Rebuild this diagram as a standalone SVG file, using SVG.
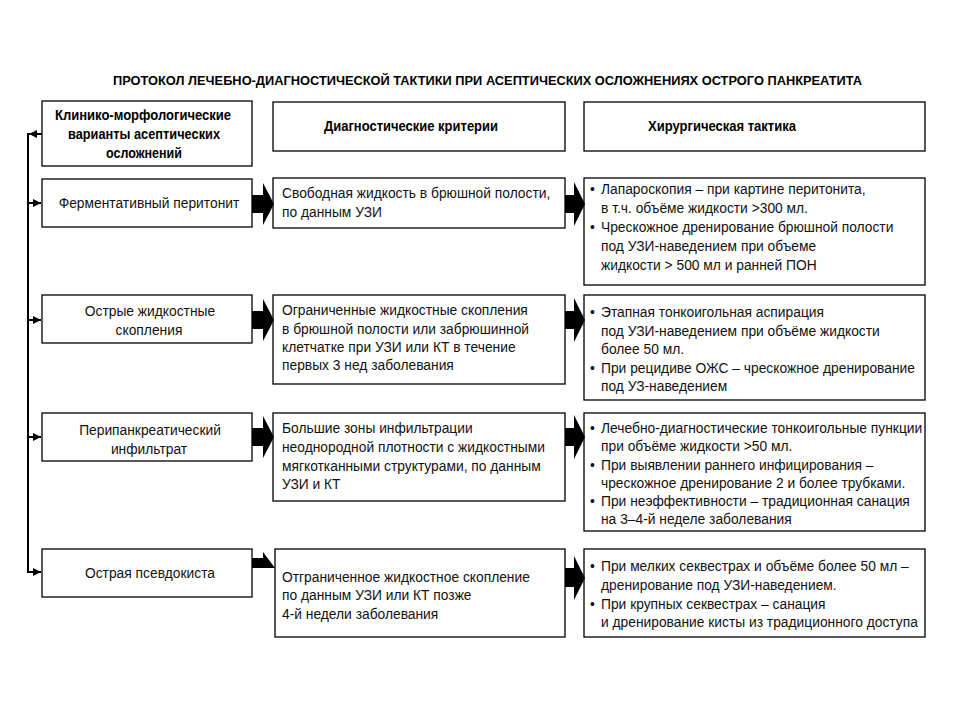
<svg xmlns="http://www.w3.org/2000/svg" width="960" height="720" viewBox="0 0 960 720">
<defs>
<style>
.box{fill:#fff;stroke:#000;stroke-width:1.3}
.t{font-family:"Liberation Sans",Arial,sans-serif;font-size:13.8px;fill:#111}
.c{text-anchor:middle}
.b{font-family:"Liberation Sans",Arial,sans-serif;font-weight:bold;font-size:15px;fill:#000}
.ttl{font-family:"Liberation Sans",Arial,sans-serif;font-weight:bold;font-size:13px;fill:#000}
.ln{fill:none;stroke:#000;stroke-width:2}
.blk{fill:#000}
</style>
<marker id="ah" viewBox="0 0 10 10" refX="10" refY="5" markerWidth="4.5" markerHeight="4" orient="auto">
<path d="M0,0 L10,5 L0,10 z" fill="#000"/>
</marker>
</defs>
<rect width="960" height="720" fill="#fff"/>
<text class="ttl" x="113" y="85" textLength="749" lengthAdjust="spacingAndGlyphs">ПРОТОКОЛ ЛЕЧЕБНО-ДИАГНОСТИЧЕСКОЙ ТАКТИКИ ПРИ АСЕПТИЧЕСКИХ ОСЛОЖНЕНИЯХ ОСТРОГО ПАНКРЕАТИТА</text>

<g id="h1"><rect class="box" x="42" y="101" width="210" height="65"/>
<text class="b" x="55" y="120" textLength="176" lengthAdjust="spacingAndGlyphs">Клинико-морфологические</text>
<text class="b" x="68" y="139" textLength="152" lengthAdjust="spacingAndGlyphs">варианты асептических</text>
<text class="b" x="106" y="158" textLength="76" lengthAdjust="spacingAndGlyphs">осложнений</text></g>
<g id="h2"><rect class="box" x="273" y="102" width="292" height="49"/>
<text class="b" x="324" y="131" textLength="174" lengthAdjust="spacingAndGlyphs">Диагностические критерии</text></g>
<g id="h3"><rect class="box" x="584" y="102" width="341" height="49"/>
<text class="b" x="648" y="131" textLength="148" lengthAdjust="spacingAndGlyphs">Хирургическая тактика</text></g>

<g id="r1a"><rect class="box" x="42" y="179" width="210" height="48"/>
<text class="t c" x="149" y="208">Ферментативный перитонит</text></g>
<g id="r1b"><rect class="box" x="273" y="178" width="292" height="50"/>
<text class="t" x="282" y="198">Свободная жидкость в брюшной полости,</text>
<text class="t" x="282" y="217">по данным УЗИ</text></g>
<g id="r1c"><rect class="box" x="584" y="178" width="341" height="107"/>
<text class="t" x="590" y="194">•</text><text class="t" x="601" y="194">Лапароскопия – при картине перитонита,</text>
<text class="t" x="601" y="213">в т.ч. объёме жидкости &gt;300 мл.</text>
<text class="t" x="590" y="232">•</text><text class="t" x="601" y="232">Чрескожное дренирование брюшной полости</text>
<text class="t" x="601" y="251">под УЗИ-наведением при объеме</text>
<text class="t" x="601" y="270">жидкости &gt; 500 мл и ранней ПОН</text></g>

<g id="r2a"><rect class="box" x="42" y="295" width="210" height="48"/>
<text class="t c" x="150" y="316">Острые жидкостные</text>
<text class="t c" x="149" y="335">скопления</text></g>
<g id="r2b"><rect class="box" x="273" y="295" width="292" height="89"/>
<text class="t" x="282" y="315">Ограниченные жидкостные скопления</text>
<text class="t" x="282" y="334">в брюшной полости или забрюшинной</text>
<text class="t" x="282" y="352">клетчатке при УЗИ или КТ в течение</text>
<text class="t" x="282" y="370">первых 3 нед заболевания</text></g>
<g id="r2c"><rect class="box" x="584" y="295" width="341" height="105"/>
<text class="t" x="590" y="317">•</text><text class="t" x="601" y="317">Этапная тонкоигольная аспирация</text>
<text class="t" x="601" y="336">под УЗИ-наведением при объёме жидкости</text>
<text class="t" x="601" y="354">более 50 мл.</text>
<text class="t" x="590" y="373">•</text><text class="t" x="601" y="373">При рецидиве ОЖС – чрескожное дренирование</text>
<text class="t" x="601" y="391">под УЗ-наведением</text></g>

<g id="r3a"><rect class="box" x="42" y="413" width="210" height="48"/>
<text class="t c" x="150" y="435">Перипанкреатический</text>
<text class="t c" x="149" y="454">инфильтрат</text></g>
<g id="r3b"><rect class="box" x="273" y="413" width="292" height="88"/>
<text class="t" x="282" y="433">Большие зоны инфильтрации</text>
<text class="t" x="282" y="452">неоднородной плотности с жидкостными</text>
<text class="t" x="282" y="471">мягкотканными структурами, по данным</text>
<text class="t" x="282" y="489">УЗИ и КТ</text></g>
<g id="r3c"><rect class="box" x="584" y="413" width="341" height="118"/>
<text class="t" x="590" y="433">•</text><text class="t" x="601" y="433">Лечебно-диагностические тонкоигольные пункции</text>
<text class="t" x="601" y="451">при объёме жидкости &gt;50 мл.</text>
<text class="t" x="590" y="470">•</text><text class="t" x="601" y="470">При выявлении раннего инфицирования –</text>
<text class="t" x="601" y="488">чрескожное дренирование 2 и более трубками.</text>
<text class="t" x="590" y="506">•</text><text class="t" x="601" y="506">При неэффективности – традиционная санация</text>
<text class="t" x="601" y="524">на 3–4-й неделе заболевания</text></g>

<g id="r4a"><rect class="box" x="42" y="549" width="210" height="48"/>
<text class="t c" x="150" y="578">Острая псевдокиста</text></g>
<g id="r4b"><rect class="box" x="275" y="549" width="290" height="88"/>
<text class="t" x="282" y="582">Отграниченное жидкостное скопление</text>
<text class="t" x="282" y="600">по данным УЗИ или КТ позже</text>
<text class="t" x="282" y="619">4-й недели заболевания</text></g>
<g id="r4c"><rect class="box" x="584" y="549" width="341" height="88"/>
<text class="t" x="590" y="571">•</text><text class="t" x="601" y="571">При мелких секвестрах и объёме более 50 мл –</text>
<text class="t" x="601" y="590">дренирование под УЗИ-наведением.</text>
<text class="t" x="590" y="609">•</text><text class="t" x="601" y="609">При крупных секвестрах – санация</text>
<text class="t" x="601" y="627">и дренирование кисты из традиционного доступа</text></g>

<g id="connectors">
<path class="ln" d="M42,134 H29" marker-end="url(#ah)"/>
<path class="ln" d="M28,133 V572 H41" marker-end="url(#ah)"/>
<path class="ln" d="M28,203 H41" marker-end="url(#ah)"/>
<path class="ln" d="M28,320 H41" marker-end="url(#ah)"/>
<path class="ln" d="M28,437 H41" marker-end="url(#ah)"/>
<polygon class="blk" points="252,195 263,195 263,183 274,204 263,225 263,213 252,213"/>
<polygon class="blk" points="252,311 263,311 263,299 274,320 263,341 263,329 252,329"/>
<polygon class="blk" points="252,428 263,428 263,416 274,437 263,458 263,446 252,446"/>
<polygon class="blk" points="252,558 263,558 263,552 275,568 252,568"/>
<polygon class="blk" points="565,195 574,195 574,182 585,204 574,226 574,213 565,213"/>
<polygon class="blk" points="565,311 574,311 574,298 585,320 574,342 574,329 565,329"/>
<polygon class="blk" points="565,428 574,428 574,415 585,437 574,459 574,446 565,446"/>
<polygon class="blk" points="565,568 574,568 574,556 585,578 574,600 574,587 565,587"/>
</g>
</svg>
